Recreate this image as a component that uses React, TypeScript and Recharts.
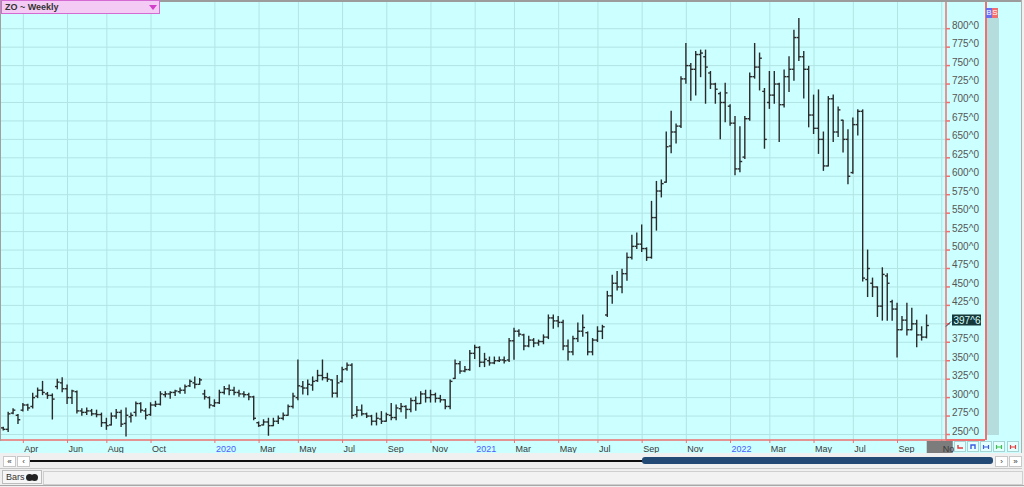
import { ComposedChart, Bar, XAxis, YAxis, CartesianGrid } from "recharts";

// weekly OHLC bars, [open, high, low, close], first bar = week of 4 Mar 2019
const bars2019 = [
  [259, 260, 256, 257], [257, 280, 254, 278], [279, 285, 278, 283], [276, 277, 265, 270],
  [283, 292, 282, 290], [290, 291, 283, 286], [288, 306, 286, 300], [302, 313, 300, 310],
  [310, 322, 304, 307], [305, 307, 299, 303], [303, 305, 271, 298], [315, 325, 312, 321],
  [320, 327, 308, 312], [312, 317, 292, 300], [300, 310, 292, 309], [308, 309, 279, 282],
  [282, 285, 276, 280], [280, 286, 277, 282], [282, 284, 276, 278], [278, 283, 274, 277],
  [277, 279, 261, 266], [266, 272, 257, 262], [263, 279, 263, 275], [275, 284, 272, 280],
  [280, 283, 261, 264], [265, 286, 248, 276], [274, 279, 267, 276], [280, 294, 275, 292],
  [292, 293, 280, 283], [282, 285, 271, 276], [277, 293, 276, 290], [290, 295, 288, 291],
  [291, 308, 290, 305], [304, 308, 301, 305], [305, 308, 299, 307], [307, 310, 303, 309],
  [308, 313, 306, 310], [310, 317, 306, 315], [316, 324, 315, 322], [320, 328, 313, 318],
  [318, 326, 318, 324], [305, 310, 298, 301], [300, 301, 286, 290],
];

const bars2020 = [
  [289, 297, 288, 293], [293, 310, 292, 307], [307, 315, 305, 312], [312, 317, 304, 310],
  [310, 314, 304, 307], [307, 310, 302, 305], [305, 308, 301, 304], [304, 306, 297, 301],
  [301, 302, 270, 272], [266, 267, 261, 262], [263, 270, 263, 267], [267, 272, 249, 262],
  [262, 272, 262, 268], [268, 275, 265, 272], [272, 279, 270, 276], [276, 290, 276, 288],
  [288, 306, 286, 302], [300, 351, 297, 316], [315, 322, 305, 313], [313, 324, 304, 318],
  [317, 328, 310, 322], [323, 337, 322, 330], [330, 351, 324, 327], [327, 333, 322, 325],
  [324, 324, 301, 306], [306, 330, 301, 320], [322, 341, 321, 338], [339, 347, 337, 344],
  [344, 346, 272, 276], [277, 288, 274, 283], [283, 290, 276, 278], [278, 279, 273, 275],
  [275, 276, 263, 268], [268, 279, 263, 272], [271, 281, 265, 268], [268, 279, 268, 277],
  [276, 292, 270, 273], [273, 290, 270, 286], [285, 292, 281, 288], [288, 289, 272, 284],
  [284, 299, 281, 296], [296, 301, 283, 292], [292, 308, 292, 305], [305, 310, 294, 300],
  [300, 310, 294, 304], [304, 306, 294, 299], [299, 303, 294, 297], [297, 297, 285, 288],
  [288, 324, 285, 322], [326, 351, 326, 346], [346, 349, 333, 336], [336, 342, 335, 338],
  [338, 364, 337, 360],
];

const bars2021 = [
  [360, 371, 353, 368], [368, 369, 342, 348], [348, 360, 342, 352], [350, 355, 344, 347],
  [347, 355, 346, 350], [350, 355, 349, 351], [351, 355, 347, 350], [351, 380, 349, 377],
  [377, 394, 352, 390], [390, 392, 383, 386], [385, 386, 365, 370], [370, 383, 369, 378],
  [378, 380, 369, 374], [374, 378, 371, 376], [376, 385, 373, 382], [382, 412, 380, 408],
  [408, 412, 394, 404], [404, 410, 396, 402], [402, 405, 365, 370], [370, 378, 351, 362],
  [362, 383, 358, 380], [380, 401, 376, 390], [390, 412, 383, 395], [388, 389, 358, 362],
  [362, 380, 358, 378], [378, 396, 376, 390], [390, 398, 380, 396], [412, 444, 410, 438],
  [438, 466, 428, 455], [455, 471, 446, 450], [450, 474, 442, 468], [468, 496, 459, 490],
  [490, 520, 488, 505], [505, 523, 502, 508], [508, 534, 498, 502], [502, 503, 486, 490],
  [490, 566, 489, 544], [544, 593, 527, 580], [580, 595, 572, 590], [592, 660, 592, 640],
  [641, 688, 632, 660], [660, 671, 645, 668], [668, 735, 666, 732], [732, 780, 726, 750],
  [750, 753, 703, 745], [745, 769, 710, 765], [765, 771, 735, 767], [762, 771, 699, 748],
  [740, 742, 719, 725], [725, 726, 699, 718], [712, 714, 651, 700], [700, 726, 674, 713],
];

const bars2022 = [
  [695, 697, 669, 672], [672, 681, 602, 610], [610, 667, 606, 620], [626, 681, 624, 678],
  [678, 740, 676, 735], [735, 780, 733, 748], [748, 767, 717, 760], [715, 719, 638, 650],
  [700, 742, 692, 710], [710, 742, 699, 725], [725, 726, 647, 697], [697, 744, 694, 735],
  [735, 762, 715, 745], [745, 798, 730, 788], [788, 814, 757, 762], [762, 769, 706, 745],
  [745, 749, 667, 683], [683, 710, 658, 665], [665, 717, 631, 650], [650, 660, 608, 614],
  [614, 708, 614, 705], [705, 710, 647, 660], [660, 694, 654, 690], [676, 676, 633, 650],
  [650, 663, 590, 600], [605, 679, 604, 670], [670, 690, 656, 688], [688, 690, 458, 462],
  [460, 500, 437, 475], [455, 462, 437, 450], [450, 450, 410, 424], [424, 476, 405, 467],
  [465, 468, 405, 455], [430, 432, 405, 420], [420, 428, 355, 392], [392, 410, 392, 405],
  [405, 428, 385, 392], [392, 421, 392, 400], [400, 405, 369, 385], [385, 396, 378, 382],
  [382, 412, 381, 397.75],
];

// bar index of the first week of each labelled month
const monthTickIdx = [4, 13, 21, 30, 43, 52, 60, 69, 78, 87, 96, 104, 113, 121, 130, 139, 148, 156, 165, 173, 182, 191];
const monthTickLabels = ["Apr", "Jun", "Aug", "Oct", "2020", "Mar", "May", "Jul", "Sep", "Nov", "2021", "Mar", "May", "Jul", "Sep", "Nov", "2022", "Mar", "May", "Jul", "Sep", "Nov"];

const priceTicks = [250, 275, 300, 325, 350, 375, 400, 425, 450, 475, 500, 525, 550, 575, 600, 625, 650, 675, 700, 725, 750, 775, 800];

const bars = [...bars2019, ...bars2020, ...bars2021, ...bars2022].map(([o, h, l, c], i) => ({ i, o, h, l, c }));
const lastClose = bars[bars.length - 1].c;

const FONT = '"Liberation Sans", Arial, sans-serif';
const RED = "#ee7070";
const BG = "#ccffff";
const GRID = "#b2e4e4";

// oats quotes: whole cents ^ eighths
const fmtPrice = (v: number) => `${Math.floor(v)}^${Math.round((v - Math.floor(v)) * 8)}`;

const OhlcShape = (props: any) => {
  const { x, y, width, height, payload } = props;
  if (!payload) return null;
  const cx = x + width / 2;
  const top = Math.min(y, y + height);
  const bot = Math.max(y, y + height);
  const span = payload.h - payload.l || 1;
  const py = (v: number) => top + ((payload.h - v) / span) * (bot - top);
  return (
    <g stroke="#2a2a2a" strokeWidth={1.4}>
      <line x1={cx} x2={cx} y1={top - 0.5} y2={bot + 0.5} />
      <line x1={cx - 2.3} x2={cx} y1={py(payload.o)} y2={py(payload.o)} />
      <line x1={cx} x2={cx + 2.3} y1={py(payload.c)} y2={py(payload.c)} />
    </g>
  );
};

const MonthTick = (props: any) => {
  const { x, y, payload, index } = props;
  const label = monthTickLabels[monthTickIdx.indexOf(payload.value)] ?? "";
  const isYear = /^\d{4}$/.test(label);
  const isLast = index === monthTickIdx.length - 1;
  return (
    <g>
      {isLast && <rect x={x - 15} y={y - 4} width={26} height={12} fill="#7c7c7c" />}
      <text x={x + 1} y={y + 6.5} fontSize={9} fontFamily={FONT} fill={isYear ? "#4a5cff" : "#3a3a3a"} textAnchor="start">
        {label}
      </text>
    </g>
  );
};

const PriceTick = (props: any) => {
  const { x, y, payload } = props;
  const v = payload.value;
  if (v === lastClose) {
    return (
      <g>
        <line x1={x - 6} y1={y + 1} x2={x - 1} y2={y - 4} stroke="#334" strokeWidth={1} />
        <rect x={x} y={y - 11} width={29} height={11} fill="#163838" />
        <text x={x + 1.5} y={y - 1.8} fontSize={10} fontFamily={FONT} fill="#d8ffff">
          {fmtPrice(v)}
        </text>
      </g>
    );
  }
  return (
    <g>
      <line x1={x - 6} x2={x - 2} y1={y} y2={y} stroke={RED} strokeWidth={1.5} />
      <text x={x} y={y} fontSize={10} fontFamily={FONT} fill="#555">
        {fmtPrice(v)}
      </text>
    </g>
  );
};

const abs = (s: any) => ({ position: "absolute" as const, ...s });

const SmallBtn = ({ left, top, w = 11, h = 9, children }: any) => (
  <div
    style={abs({
      left, top, width: w, height: h, background: "#fff", border: "1px solid #c8c8c8",
      fontSize: 8, lineHeight: `${h}px`, textAlign: "center", color: "#333", boxSizing: "content-box",
    })}
  >
    {children}
  </div>
);

const iconColors = ["#e23b3b", "#3b5ce2", "#3b5ce2", "#3bbf4a", "#e23b3b"];
const iconKinds = ["L", "U", "H", "H", "H"];

const ToolIcon = ({ left, color, kind }: any) => (
  <div style={abs({ left, top: 441, width: 12, height: 11, background: "#e4ffff", border: "1px solid #a8d4d4", boxSizing: "border-box" })}>
    <svg width={10} height={9} style={{ position: "absolute", left: 0, top: 0 }}>
      {kind === "L" && <path d="M3 3 V6 H8" stroke={color} strokeWidth={1.4} fill="none" />}
      {kind === "U" && <path d="M3 7 V3 H7 V7" stroke={color} strokeWidth={1.4} fill="none" />}
      {kind === "H" && <path d="M2.5 3 V7 M2.5 5 H7.5 M7.5 3 V7" stroke={color} strokeWidth={1.2} fill="none" />}
    </svg>
  </div>
);

export default function App() {
  return (
    <div style={abs({ left: 0, top: 0, width: 1024, height: 487, background: "#f0f0f0", overflow: "hidden", fontFamily: FONT })}>
      <div style={abs({ left: 0, top: 0, width: 1022, height: 453, background: BG })} />
      <div style={abs({ left: 0, top: 0 })}>
        <ComposedChart width={985} height={453} data={bars} margin={{ top: 2, right: 0, bottom: 0, left: 0 }}>
          <CartesianGrid stroke={GRID} horizontalValues={priceTicks} verticalValues={monthTickIdx} />
          <XAxis
            dataKey="i"
            type="number"
            domain={[-0.753, 191.87]}
            allowDataOverflow
            ticks={monthTickIdx}
            interval={0}
            height={13}
            axisLine={{ stroke: RED, strokeWidth: 1.5 }}
            tickLine={{ stroke: RED }}
            tickSize={3}
            tickMargin={2}
            tick={(p: any) => <MonthTick {...p} />}
          />
          <YAxis
            orientation="right"
            type="number"
            domain={[242.55, 836.2]}
            allowDataOverflow
            ticks={[...priceTicks, lastClose]}
            interval={0}
            width={39}
            axisLine={{ stroke: RED, strokeWidth: 1.5 }}
            tickLine={false}
            tickSize={4}
            tickMargin={2}
            tick={(p: any) => <PriceTick {...p} />}
          />
          <Bar dataKey={(d: any) => [d.l, d.h]} barSize={4} isAnimationActive={false} shape={(p: any) => <OhlcShape {...p} />} />
        </ComposedChart>
      </div>

      {/* frame lines */}
      <div style={abs({ left: 0, top: 0, width: 1022, height: 2, background: "#9c9c9c" })} />
      <div style={abs({ left: 0, top: 0, width: 1, height: 441, background: "#a0a0a0" })} />
      <div style={abs({ left: 946, top: 439, width: 39, height: 1.5, background: RED })} />
      <div style={abs({ left: 985, top: 2, width: 1.5, height: 438, background: RED })} />
      <div style={abs({ left: 1021, top: 0, width: 1, height: 453, background: "#b0b0b0" })} />

      {/* B / S side strip */}
      <div style={abs({ left: 987, top: 18, width: 12, height: 417, background: "#b6dddd" })} />
      <div style={abs({ left: 986, top: 8, width: 6, height: 10, background: "#6b6bf0", color: "#fff", fontSize: 8, lineHeight: "10px", textAlign: "center" })}>B</div>
      <div style={abs({ left: 992, top: 8, width: 6, height: 10, background: "#f07070", color: "#fff", fontSize: 8, lineHeight: "10px", textAlign: "center" })}>S</div>

      {/* title */}
      <div
        style={abs({
          left: 1, top: 0, width: 159, height: 14, background: "#f4cbf4", border: "1px solid #d36bd3",
          boxSizing: "border-box", fontSize: 9, fontWeight: "bold", color: "#333", lineHeight: "12px", paddingLeft: 3,
        })}
      >
        ZO ~ Weekly
      </div>
      <div style={abs({ left: 149, top: 5, width: 0, height: 0, borderLeft: "4px solid transparent", borderRight: "4px solid transparent", borderTop: "5px solid #d23fc8" })} />

      {/* tool buttons */}
      {[954, 967, 980, 993, 1007].map((l, k) => (
        <ToolIcon key={l} left={l} color={iconColors[k]} kind={iconKinds[k]} />
      ))}

      {/* scroll bar */}
      <SmallBtn left={3} top={456}>«</SmallBtn>
      <SmallBtn left={17} top={456}>‹</SmallBtn>
      <div style={abs({ left: 30, top: 459.5, width: 614, height: 2.5, background: "#111" })} />
      <div style={abs({ left: 642, top: 457, width: 351, height: 7, background: "#224a75", borderRadius: 3 })} />
      <SmallBtn left={995} top={456}>›</SmallBtn>
      <SmallBtn left={1009} top={456}>»</SmallBtn>

      {/* bottom tab strip */}
      <div style={abs({ left: 0, top: 468, width: 1022, height: 1, background: "#c8c8c8" })} />
      <div style={abs({ left: 43, top: 471, width: 978, height: 12, border: "1px solid #cfcfcf", background: "#f2f2f2" })} />
      <div
        style={abs({
          left: 2, top: 470, width: 40, height: 14, border: "1px solid #bdbdbd", background: "#f6f6f6",
          boxSizing: "border-box", fontSize: 9, color: "#333", lineHeight: "12px", paddingLeft: 3,
        })}
      >
        Bars
      </div>
      <div style={abs({ left: 26, top: 474, width: 7, height: 7, borderRadius: 4, background: "#222" })} />
      <div style={abs({ left: 31, top: 474, width: 7, height: 7, borderRadius: 4, background: "#222" })} />
      <div style={abs({ left: 0, top: 485, width: 1024, height: 1, background: "#a8a8a8" })} />
    </div>
  );
}
